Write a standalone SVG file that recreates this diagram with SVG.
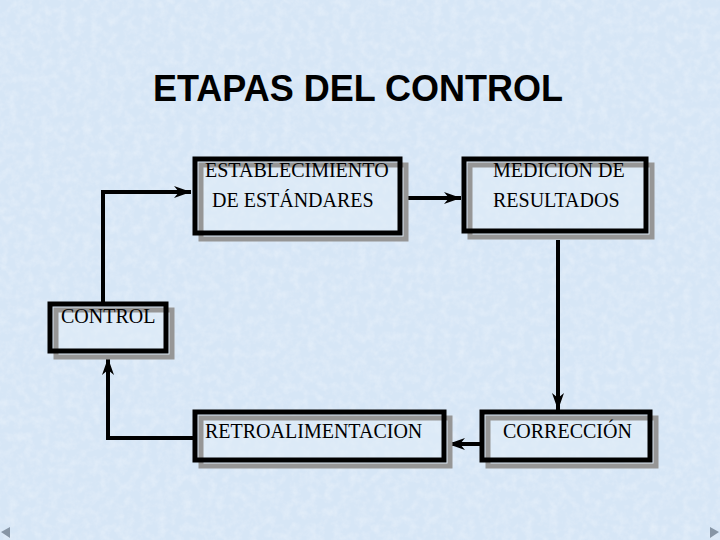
<svg xmlns="http://www.w3.org/2000/svg" width="720" height="540" viewBox="0 0 720 540">
<defs>
<filter id="tex" x="0" y="0" width="100%" height="100%">
<feTurbulence type="fractalNoise" baseFrequency="0.12" numOctaves="3" seed="4" result="n"/>
<feColorMatrix in="n" type="matrix" values="0 0 0 0 1  0 0 0 0 1  0 0 0 0 1  0 0 0 1.2 -0.45"/>
</filter>
<marker id="ah" markerUnits="userSpaceOnUse" markerWidth="18" markerHeight="14" refX="17" refY="7" orient="auto">
<path d="M0,1 L17,7 L0,13 L5,7 z" fill="#000"/>
</marker>
<style>
.bk{fill:none;stroke:#000;stroke-width:5}
.gr{fill:#e2edf8;fill-opacity:0.5;stroke:#969696;stroke-width:5}
.t{font-family:"Liberation Serif","Times New Roman",serif;font-size:20px;fill:#000}
.c{fill:none;stroke:#000;stroke-width:4;stroke-linejoin:miter}
</style>
</defs>
<rect width="720" height="540" fill="#d6e6f6"/>
<rect width="720" height="540" filter="url(#tex)" opacity="0.45"/>
<text x="153" y="101" font-family="Liberation Sans,Arial,sans-serif" font-weight="bold" font-size="36" fill="#000">ETAPAS DEL CONTROL</text>
<g id="connectors">
<path class="c" d="M405,198 L461,198" marker-end="url(#ah)"/>
<path class="c" d="M558,240 L558,410" marker-end="url(#ah)"/>
<path class="c" d="M480,444 L448,444" marker-end="url(#ah)"/>
<path class="c" d="M193,438 L108,438 L108,358" marker-end="url(#ah)"/>
<path class="c" d="M103,302 L103,192 L191,192" marker-end="url(#ah)"/>
</g>
<g id="establecimiento">
<rect class="gr" x="201" y="165" width="205" height="74"/>
<rect class="bk" x="195" y="159" width="205" height="74"/>
<text class="t" x="205" y="177">ESTABLECIMIENTO</text>
<text class="t" x="212" y="207">DE ESTÁNDARES</text>
</g>
<g id="medicion">
<rect class="gr" x="470" y="165" width="182" height="72"/>
<rect class="bk" x="464" y="159" width="182" height="72"/>
<text class="t" x="493" y="177">MEDICION DE</text>
<text class="t" x="493" y="207">RESULTADOS</text>
</g>
<g id="control">
<rect class="gr" x="56" y="310" width="116" height="47"/>
<rect class="bk" x="50" y="304" width="116" height="47"/>
<text class="t" x="61" y="323">CONTROL</text>
</g>
<g id="retroalimentacion">
<rect class="gr" x="201" y="418" width="249" height="48"/>
<rect class="bk" x="195" y="412" width="249" height="48"/>
<text class="t" x="205" y="438">RETROALIMENTACION</text>
</g>
<g id="correccion">
<rect class="gr" x="488" y="418" width="168" height="48"/>
<rect class="bk" x="482" y="412" width="168" height="48"/>
<text class="t" x="503" y="438">CORRECCIÓN</text>
</g>
<polygon points="1,532 10,527 10,538" fill="#8796a6"/>
<polygon points="719,532 710,527 710,538" fill="#8796a6"/>
</svg>
